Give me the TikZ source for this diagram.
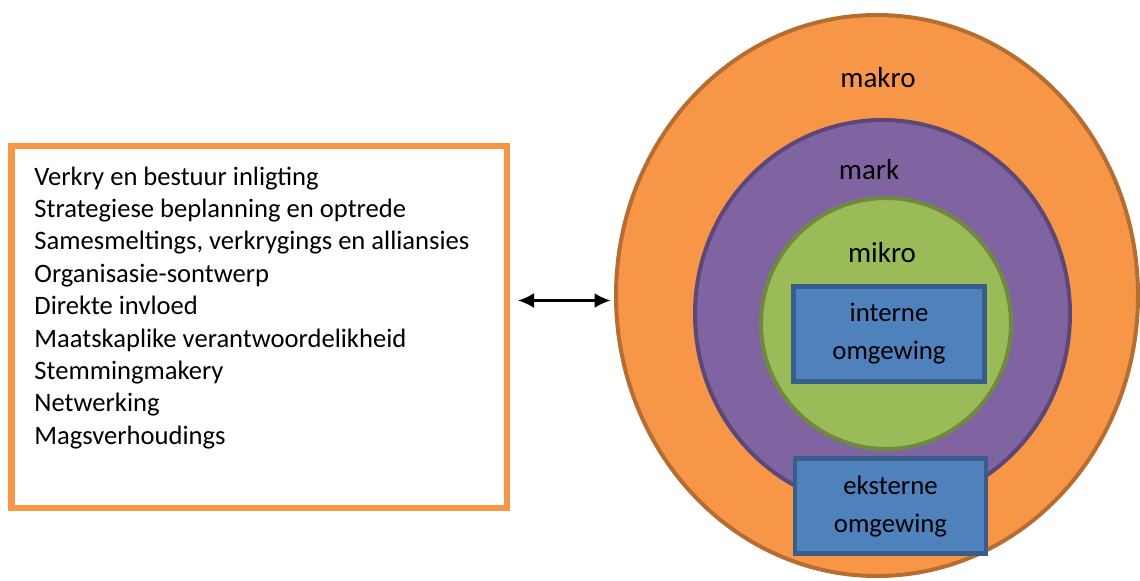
\documentclass[tikz,border=0pt]{standalone}
\usepackage{fontspec}
\setmainfont{Carlito}
\usetikzlibrary{shapes.geometric,arrows.meta}
\definecolor{orfill}{HTML}{F79646}
\definecolor{ordraw}{HTML}{B66D31}
\definecolor{pufill}{HTML}{8064A2}
\definecolor{pudraw}{HTML}{5C4776}
\definecolor{grfill}{HTML}{9BBB59}
\definecolor{grdraw}{HTML}{71893F}
\definecolor{blfill}{HTML}{4F81BD}
\definecolor{bldraw}{HTML}{385D8A}
\tikzset{
  ring/.style={ellipse, inner sep=0pt, line width=2pt},
  envbox/.style={rectangle, fill=blfill, draw=bldraw, line width=2.3pt, inner sep=0pt,
    minimum width=95.5pt, minimum height=47.5pt, align=center,
    font=\fontsize{13.4}{19}\selectfont},
  lvl/.style={font=\fontsize{14.5}{17}\selectfont, inner sep=0pt},
  listline/.style={font=\fontsize{13.3}{16}\selectfont, inner sep=0pt, anchor=base west},
  listbox/.style={rectangle, draw=orfill, line width=3.3pt, fill=white, inner sep=0pt},
  twoway/.style={{Latex[length=8pt,width=7.5pt]}-{Latex[length=8pt,width=7.5pt]}, line width=1.1pt}
}
\begin{document}
\begin{tikzpicture}[x=0.5pt,y=-0.5pt]
\useasboundingbox (0,0) rectangle (1140,580);

% nested environment levels
\node[ring, fill=orfill, draw=ordraw, minimum width=261pt, minimum height=280.5pt] (makro) at (877,295.5) {};
\node[ring, fill=pufill, draw=pudraw, minimum width=187.5pt, minimum height=194pt] (mark) at (882.5,314) {};
\node[ring, fill=grfill, draw=grdraw, minimum width=125pt, minimum height=125.5pt] (mikro) at (886,323.5) {};

\node[lvl] (tmakro) at (878,78) {makro};
\node[lvl] (tmark) at (869,170) {mark};
\node[lvl] (tmikro) at (882,253) {mikro};

\node[envbox] (interne) at (889,334) {interne\\omgewing};
\node[envbox] (eksterne) at (890.5,506) {eksterne\\omgewing};

% list of activities
\node[listbox, minimum width=247.7pt, minimum height=181pt] (lys) at (259.3,327) {};
\foreach \t [count=\i from 0] in {Verkry en bestuur inligting,
    Strategiese beplanning en optrede,
    {Samesmeltings, verkrygings en alliansies},
    Organisasie-sontwerp,
    Direkte invloed,
    Maatskaplike verantwoordelikheid,
    Stemmingmakery,
    Netwerking,
    Magsverhoudings}{
  \node[listline] (r\i) at (34,{185+32.4*\i}) {\t};
}

% two-way link
\coordinate (pl) at (518,300.5);
\coordinate (pr) at (610.5,300.5);
\draw[twoway] (pl) -- (pr);
\end{tikzpicture}
\end{document}
